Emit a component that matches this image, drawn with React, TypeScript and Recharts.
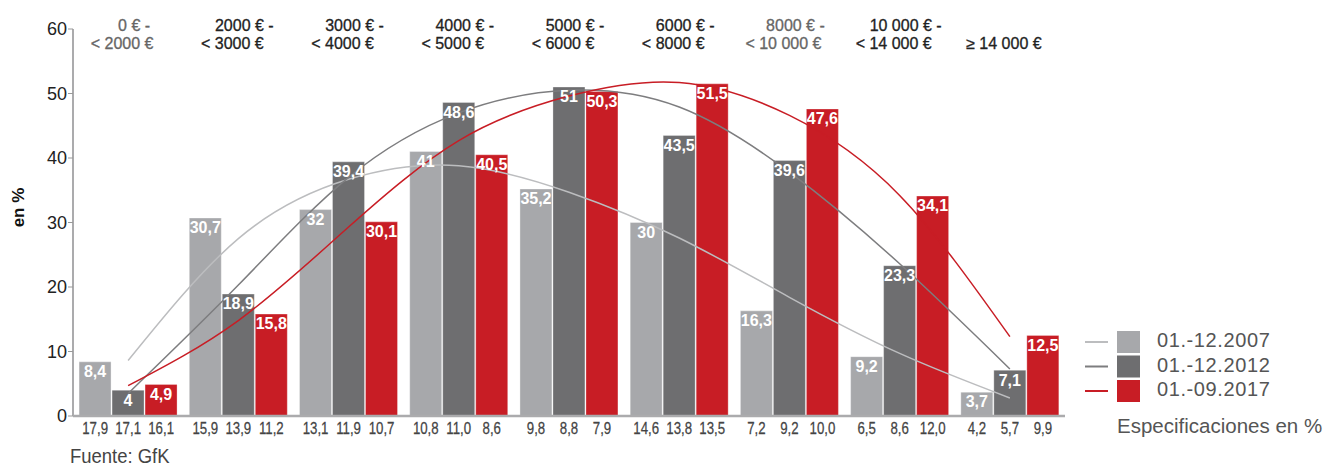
import React from 'react';
import { ComposedChart, Bar, Line, XAxis, YAxis, LabelList, Legend, Label } from 'recharts';

// ---- data ----
const categories = ['0-2000', '2000-3000', '3000-4000', '4000-5000', '5000-6000', '6000-8000', '8000-10000', '10000-14000', '14000+'];
const rangeLine1 = ['0 € -', '2000 € -', '3000 € -', '4000 € -', '5000 € -', '6000 € -', '8000 € -', '10 000 € -', ''];
const rangeLine2 = ['< 2000 €', '< 3000 €', '< 4000 €', '< 5000 €', '< 6000 €', '< 8000 €', '< 10 000 €', '< 14 000 €', '≥ 14 000 €'];

const values2007 = [8.4, 30.7, 32, 41, 35.2, 30, 16.3, 9.2, 3.7];
const values2012 = [4, 18.9, 39.4, 48.6, 51, 43.5, 39.6, 23.3, 7.1];
const values2017 = [4.9, 15.8, 30.1, 40.5, 50.3, 51.5, 47.6, 34.1, 12.5];

const trend2007 = [8.6, 27.5, 36.7, 38.8, 34.7, 27.6, 18.4, 9.7, 2.8];
const trend2012 = [3.5, 20.3, 37.0, 47.0, 50.5, 47.9, 37.8, 23.6, 7.3];
const trend2017 = [4.7, 14.8, 29.3, 42.7, 49.6, 51.7, 46.6, 34.2, 12.3];

const spec2007 = ['17,9', '15,9', '13,1', '10,8', '9,8', '14,6', '7,2', '6,5', '4,2'];
const spec2012 = ['17,1', '13,9', '11,9', '11,0', '8,8', '13,8', '9,2', '8,6', '5,7'];
const spec2017 = ['16,1', '11,2', '10,7', '8,6', '7,9', '13,5', '10,0', '12,0', '9,9'];

const yTicks = [0, 10, 20, 30, 40, 50, 60];

const seriesNames = ['01.-12.2007', '01.-12.2012', '01.-09.2017'];

// ---- styles / layout ----
const COL_LIGHT = '#A7A8AB';
const COL_DARK = '#6E6E70';
const COL_RED = '#C81D25';
const LINE_LIGHT = '#BCBDBF';
const LINE_DARK = '#7D7D7F';
const LINE_RED = '#C81D25';
const FONT = "'Liberation Sans', Arial, sans-serif";
const MUTED_RANGE = [0, 6];
const BAR_OFFSET = 33;
const W = 1335;
const H = 469;
const MARGIN = { top: 29, right: 270, bottom: 29, left: 23 };
const X_AXIS_H = 24;
const PLOT_H = H - MARGIN.top - MARGIN.bottom - X_AXIS_H;

const data = categories.map((c, i) => ({
  cat: c,
  v2007: values2007[i],
  v2012: values2012[i],
  v2017: values2017[i],
  t2007: trend2007[i],
  t2012: trend2012[i],
  t2017: trend2017[i],
}));

const fmt = (v: any) => String(v).replace('.', ',');

const CondText = ({ x, y, size, fill, children, sx = 0.82, anchor = 'middle', sw = 0 }: any) => (
  <text
    transform={`translate(${x}, ${y}) scale(${sx}, 1)`}
    x={0}
    y={0}
    textAnchor={anchor}
    fontFamily={FONT}
    fontSize={size}
    fill={fill}
    stroke={sw ? fill : undefined}
    strokeWidth={sw || undefined}
  >
    {children}
  </text>
);

const CategoryTick = (props: any) => {
  const { x, y, payload } = props;
  const i = payload.index;
  const vals = [spec2007[i], spec2012[i], spec2017[i]];
  const topY = y - PLOT_H;
  const fill = MUTED_RANGE.includes(i) ? '#666' : '#222';
  return (
    <g>
      {vals.map((v, k) => (
        <CondText key={k} x={x + (k - 1) * BAR_OFFSET} y={y + 17.5} size={17} sx={0.78} fill="#444" sw={0.25}>
          {v}
        </CondText>
      ))}
      {rangeLine1[i] ? (
        <text x={x + 6} y={topY + 2} textAnchor="middle" fontFamily={FONT} fontSize={16} fill={fill} stroke={fill} strokeWidth={0.3}>
          {rangeLine1[i]}
        </text>
      ) : null}
      <text x={x - 6} y={topY + 20} textAnchor="middle" fontFamily={FONT} fontSize={16} fill={fill} stroke={fill} strokeWidth={0.3}>
        {rangeLine2[i]}
      </text>
    </g>
  );
};

const legendItems = [
  { name: seriesNames[0], line: LINE_LIGHT, box: COL_LIGHT },
  { name: seriesNames[1], line: LINE_DARK, box: COL_DARK },
  { name: seriesNames[2], line: LINE_RED, box: COL_RED },
];

const LegendContent = () => (
  <svg width={255} height={115} style={{ display: 'block' }}>
    {legendItems.map((it, k) => {
      const top = 6 + k * 24.5;
      return (
        <g key={k}>
          <line x1={5} x2={28} y1={top + 11} y2={top + 11} stroke={it.line} strokeWidth={2} />
          <rect x={37} y={top} width={23} height={22} fill={it.box} />
          <text x={77} y={top + 16} fontFamily={FONT} fontSize={20} fill="#555" letterSpacing={0.6}>
            {it.name}
          </text>
        </g>
      );
    })}
    <text x={37} y={108} fontFamily={FONT} fontSize={20.5} fill="#555">
      Especificaciones en %
    </text>
  </svg>
);

const YLabel = (props: any) => {
  const vb = props.viewBox || { x: 23, y: 29, width: 50, height: 387 };
  const cx = vb.x - 5;
  const cy = vb.y + vb.height / 2 - 15;
  return (
    <text x={cx} y={cy} transform={`rotate(-90, ${cx}, ${cy})`} textAnchor="middle" dominantBaseline="central" fontFamily={FONT} fontSize={17} fontWeight="bold" fill="#111">
      en %
    </text>
  );
};

const labelStyle = { fill: '#fff', fontFamily: FONT, fontSize: 16, fontWeight: 'bold' as const };

export default function App() {
  return (
    <div style={{ position: 'absolute', left: 0, top: 0, width: W, height: H, background: '#fff' }}>
      <ComposedChart width={W} height={H} data={data} margin={MARGIN} barCategoryGap="5.5%" barGap={1}>
        <XAxis
          dataKey="cat"
          height={X_AXIS_H}
          interval={0}
          tickSize={0}
          tickMargin={0}
          tickLine={false}
          axisLine={{ stroke: '#ABABAD', strokeWidth: 2.5 }}
          tick={<CategoryTick />}
        />
        <YAxis
          width={50}
          domain={[0, 60]}
          ticks={yTicks}
          interval={0}
          tickSize={5}
          tickMargin={1}
          tick={{ fontFamily: FONT, fontSize: 18, fill: '#222' }}
          tickLine={{ stroke: '#999' }}
          axisLine={{ stroke: '#ABABAD', strokeWidth: 2 }}
        >
          <Label content={<YLabel />} />
        </YAxis>
        <YAxis
          yAxisId="right"
          orientation="right"
          width={0}
          domain={[0, 60]}
          tick={false}
          tickLine={false}
          axisLine={{ stroke: '#BDBDBF', strokeWidth: 2 }}
        />
        <Bar dataKey="v2007" name={seriesNames[0]} fill={COL_LIGHT} stroke="#ffffff" strokeOpacity={0.35} strokeWidth={1} isAnimationActive={false}>
          <LabelList dataKey="v2007" position="insideTop" offset={4} formatter={fmt} {...labelStyle} />
        </Bar>
        <Bar dataKey="v2012" name={seriesNames[1]} fill={COL_DARK} stroke="#ffffff" strokeOpacity={0.3} strokeWidth={1} isAnimationActive={false}>
          <LabelList dataKey="v2012" position="insideTop" offset={4} formatter={fmt} {...labelStyle} />
        </Bar>
        <Bar dataKey="v2017" name={seriesNames[2]} fill={COL_RED} stroke="#ffffff" strokeOpacity={0.3} strokeWidth={1} isAnimationActive={false}>
          <LabelList dataKey="v2017" position="insideTop" offset={4} formatter={fmt} {...labelStyle} />
        </Bar>
        <Line dataKey="t2007" type="natural" stroke={LINE_LIGHT} strokeWidth={1.5} dot={false} activeDot={false} legendType="none" isAnimationActive={false} />
        <Line dataKey="t2012" type="natural" stroke={LINE_DARK} strokeWidth={1.5} dot={false} activeDot={false} legendType="none" isAnimationActive={false} />
        <Line dataKey="t2017" type="natural" stroke={LINE_RED} strokeWidth={1.5} dot={false} activeDot={false} legendType="none" isAnimationActive={false} />
        <Legend
          layout="horizontal"
          verticalAlign="middle"
          align="center"
          content={<LegendContent />}
          wrapperStyle={{ left: 1080, top: 325, width: 255, height: 115 }}
        />
      </ComposedChart>
      <svg width={200} height={30} style={{ position: 'absolute', left: 60, top: 440 }}>
        <CondText x={10} y={23} size={21} fill="#444" sx={0.88} anchor="start">
          Fuente: GfK
        </CondText>
      </svg>
    </div>
  );
}
